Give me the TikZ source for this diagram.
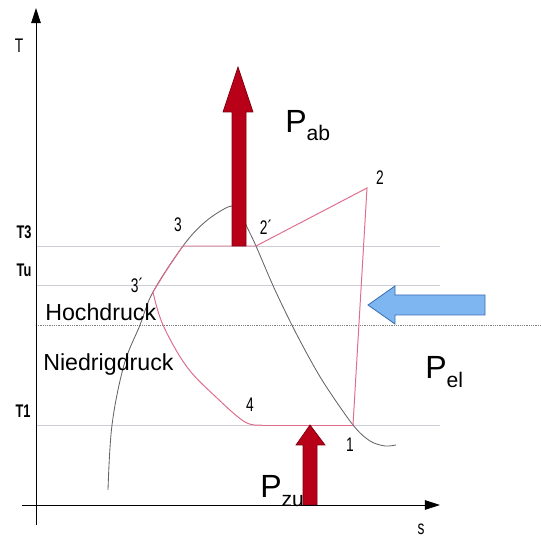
\documentclass[tikz,border=0pt]{standalone}
\usepackage{fontspec}
\setmainfont{Liberation Sans}
\newfontfamily\narrowfont[FakeStretch=0.7]{Liberation Sans}
\usetikzlibrary{arrows.meta}
\definecolor{cyclered}{RGB}{222,110,140}
\definecolor{domegray}{RGB}{100,100,100}
\definecolor{levelgray}{RGB}{205,205,215}
\definecolor{powerred}{RGB}{185,0,25}
\definecolor{powerredline}{RGB}{125,0,15}
\definecolor{elblue}{RGB}{125,182,240}
\definecolor{elblueline}{RGB}{60,110,180}
\newcommand{\powlabel}[1]{P\raisebox{-0.2cm}{\fontsize{15}{15}\selectfont #1}}

\begin{document}
\begin{tikzpicture}[x=0.025cm, y=-0.025cm,
    axis line/.style={black, line width=0.6pt, -{Triangle[length=3.8mm, width=2.4mm]}},
    level line/.style={levelgray, line width=0.6pt},
    dome line/.style={domegray, line width=0.6pt},
    cycle line/.style={cyclered, line width=0.7pt},
    power arrow/.style={fill=powerred, draw=powerredline, line width=0.5pt},
    el arrow/.style={fill=elblue, draw=elblueline, line width=0.6pt},
    state label/.style={font=\narrowfont\fontsize{14}{14}\selectfont, inner sep=0pt},
    axis label/.style={font=\narrowfont\bfseries\fontsize{13}{13}\selectfont, inner sep=0pt},
    region label/.style={font=\fontsize{16.5}{16.5}\selectfont, inner sep=0pt, anchor=base west},
    power label/.style={font=\fontsize{22.8}{22.8}\selectfont, inner sep=0pt, anchor=base west}]
    \useasboundingbox (0,0) rectangle (541,538);

    % Temperature levels
    \draw[level line] (36,246) -- (440,246);
    \draw[level line] (36,285) -- (440,285);
    \draw[level line] (36,425) -- (440,425);
    \draw[gray, line width=0.6pt, dash pattern=on 0.8pt off 0.8pt] (36,325) -- (541,325);

    % Saturation dome
    \draw[dome line] plot[smooth, tension=0.6] coordinates {(108,490) (112,425) (124,365) (140,325) (153,292) (183,246) (205,222) (228,207) (238,207)};
    \draw[dome line] plot[smooth, tension=0.5] coordinates {(238,207) (247,227) (256,246) (275,290) (297,335) (322,380) (353,425) (370,441) (385,446) (396,445)};

    % Cycle states
    \coordinate (p1) at (353,425);
    \coordinate (p2) at (367,188);
    \coordinate (p2s) at (256,246);
    \coordinate (p3) at (183,246);
    \coordinate (p3s) at (153,292);
    \coordinate (p4) at (262,425);

    % Cycle
    \draw[cycle line] (p1) -- (p2) -- (p2s) -- (p3);
    \draw[cycle line] plot[smooth, tension=0.6] coordinates {(p3) (168,268) (p3s)};
    \draw[cycle line] plot[smooth, tension=0.6] coordinates {(p3s) (163,325) (187,367) (217,398) (245,422) (p4)};
    \draw[cycle line] (p4) -- (p1);

    % Power arrows
    \filldraw[power arrow] (232,246) -- (246,246) -- (246,112) -- (253,112) -- (238,67) -- (223,112) -- (232,112) -- cycle;
    \filldraw[power arrow] (303,505) -- (317,505) -- (317,445) -- (325,445) -- (310,425) -- (296,445) -- (303,445) -- cycle;
    \filldraw[el arrow] (485,295) -- (395,295) -- (395,286) -- (368,305) -- (395,324) -- (395,315) -- (485,315) -- cycle;

    % Axes
    \draw[axis line] (36,525) -- (36,8);
    \draw[axis line] (22,505) -- (440,505);

    % Axis labels
    \node[state label] (tlab) at (19,46) {T};
    \node[state label] (slab) at (421,529) {s};
    \node[axis label] (t3lab) at (24,232) {T3};
    \node[axis label] (tulab) at (24,270) {Tu};
    \node[axis label] (t1lab) at (23,411) {T1};

    % State labels
    \node[state label] (lab1) at (350,445) {1};
    \node[state label] (lab2) at (380,178) {2};
    \node[state label] (lab2s) at (266,227) {2´};
    \node[state label] (lab3) at (178,225) {3};
    \node[state label] (lab3s) at (137,285) {3´};
    \node[state label] (lab4) at (250,405) {4};

    % Region labels
    \node[region label] (hoch) at (45,321) {Hochdruck};
    \node[region label] (niedrig) at (43,371) {Niedrigdruck};

    % Power labels
    \node[power label] (pab) at (285,133) {\powlabel{ab}};
    \node[power label] (pel) at (425,379) {\powlabel{el}};
    \node[power label] (pzu) at (260,498) {\powlabel{zu}};
\end{tikzpicture}
\end{document}
